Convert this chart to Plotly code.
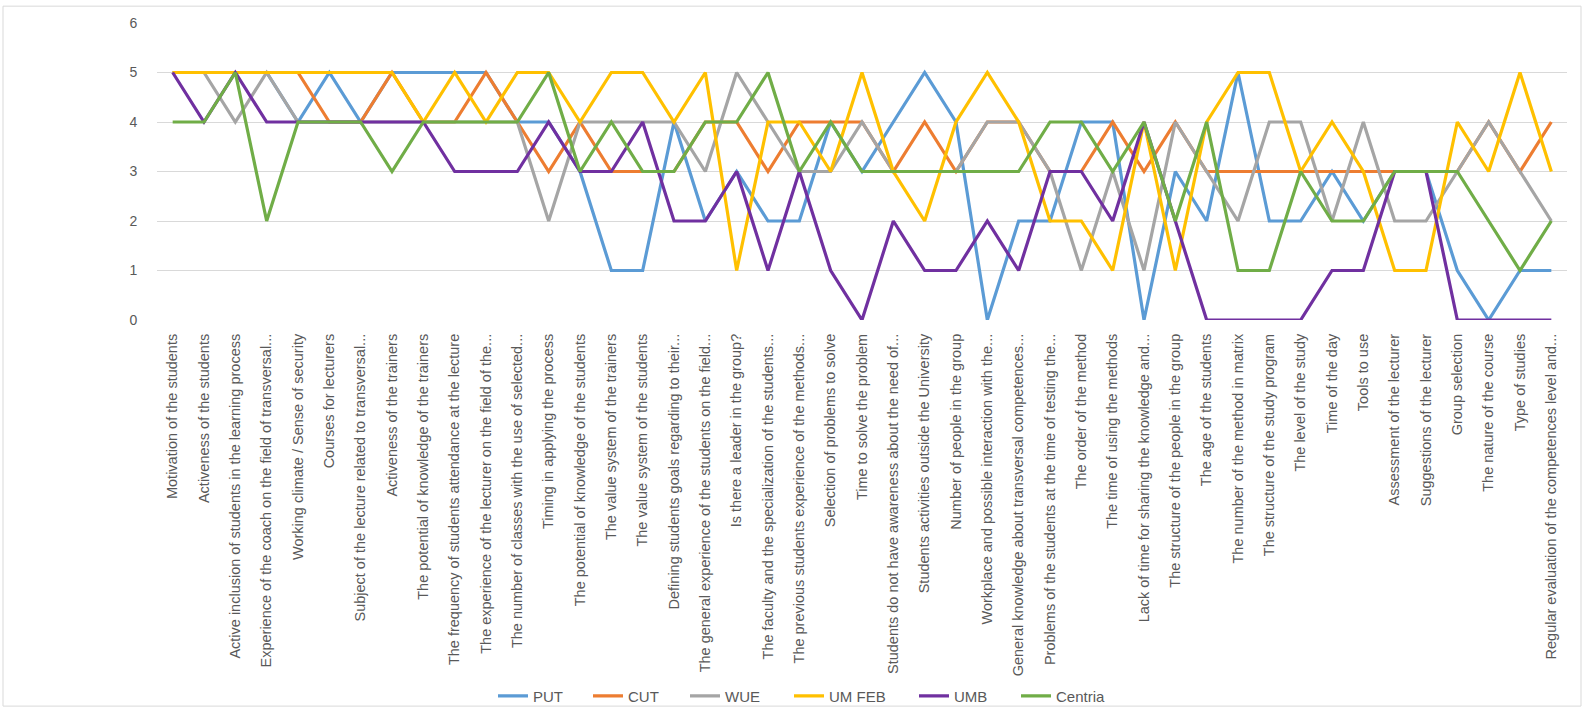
import plotly.graph_objects as go

categories = [
    "Motivation of the students",
    "Activeness of the students",
    "Active inclusion of students in the learning process",
    "Experience of the coach on the field of transversal...",
    "Working climate / Sense of security",
    "Courses for lecturers",
    "Subject of the lecture related to transversal...",
    "Activeness of the trainers",
    "The potential of knowledge of the trainers",
    "The frequency of students attendance at the lecture",
    "The experience of the lecturer on the field of the...",
    "The number of classes with the use of selected...",
    "Timing in applying the process",
    "The potential of knowledge of the students",
    "The value system of the trainers",
    "The value system of the students",
    "Defining students goals regarding to their...",
    "The general experience of the students on the field...",
    "Is there a leader in the group?",
    "The faculty and the specialization of the students...",
    "The previous students experience of the methods...",
    "Selection of problems to solve",
    "Time to solve the problem",
    "Students do not have awareness about the need of...",
    "Students activities outside the University",
    "Number of people in the group",
    "Workplace and possible interaction with the...",
    "General knowledge about transversal competences...",
    "Problems of the students at the time of testing the...",
    "The order of the method",
    "The time of using the methods",
    "Lack of time for sharing the knowledge and...",
    "The structure of the people in the group",
    "The age of the students",
    "The number of the method in matrix",
    "The structure of the study program",
    "The level of the study",
    "Time of the day",
    "Tools to use",
    "Assessment of the lecturer",
    "Suggestions of the lecturer",
    "Group selection",
    "The nature of the course",
    "Type of studies",
    "Regular evaluation of the competences level and...",
]

put = [5, 5, 5, 5, 4, 5, 4, 5, 5, 5, 5, 4, 4, 3, 1, 1, 4, 2, 3, 2, 2, 4, 3,
       4, 5, 4, 0, 2, 2, 4, 4, 0, 3, 2, 5, 2, 2, 3, 2, 3, 3, 1, 0, 1, 1]
cut = [5, 5, 5, 5, 5, 4, 4, 5, 4, 4, 5, 4, 3, 4, 3, 3, 3, 4, 4, 3, 4, 4, 4,
       3, 4, 3, 4, 4, 3, 3, 4, 3, 4, 3, 3, 3, 3, 3, 3, 3, 3, 3, 4, 3, 4]
wue = [5, 5, 4, 5, 4, 4, 4, 4, 4, 4, 4, 4, 2, 4, 4, 4, 4, 3, 5, 4, 3, 3, 4,
       3, 3, 3, 4, 4, 3, 1, 3, 1, 4, 3, 2, 4, 4, 2, 4, 2, 2, 3, 4, 3, 2]
um_feb = [5, 5, 5, 5, 5, 5, 5, 5, 4, 5, 4, 5, 5, 4, 5, 5, 4, 5, 1, 4, 4, 3, 5,
          3, 2, 4, 5, 4, 2, 2, 1, 4, 1, 4, 5, 5, 3, 4, 3, 1, 1, 4, 3, 5, 3]
umb = [5, 4, 5, 4, 4, 4, 4, 4, 4, 3, 3, 3, 4, 3, 3, 4, 2, 2, 3, 1, 3, 1, 0,
       2, 1, 1, 2, 1, 3, 3, 2, 4, 2, 0, 0, 0, 0, 1, 1, 3, 3, 0, 0, 0, 0]
centria = [4, 4, 5, 2, 4, 4, 4, 3, 4, 4, 4, 4, 5, 3, 4, 3, 3, 4, 4, 5, 3, 4, 3,
           3, 3, 3, 3, 3, 4, 4, 3, 4, 2, 4, 1, 1, 3, 2, 2, 3, 3, 3, 2, 1, 2]

series_names = ["PUT", "CUT", "WUE", "UM FEB", "UMB", "Centria"]
series_values = [put, cut, wue, um_feb, umb, centria]
series_colors = ["#5B9BD5", "#ED7D31", "#A5A5A5", "#FFC000", "#7030A0", "#70AD47"]
# left edge (px) of each legend entry's text along the bottom row
legend_text_px = [535, 630, 727, 831, 956, 1058]

W, H = 1585, 724
L, R = 157, 1567
T, B = 23, 323


def px_x(p):
    return (p - L) / (R - L)


def px_y(p):
    return (B - p) / (B - T)


font = "Liberation Sans"
grey = "#595959"

fig = go.Figure()
legend_layouts = {}
for i, (name, values, color) in enumerate(zip(series_names, series_values, series_colors)):
    key = "legend" if i == 0 else f"legend{i + 1}"
    fig.add_trace(go.Scatter(
        x=categories, y=values, name=name, mode="lines",
        line=dict(color=color, width=3.2), legend=key,
    ))
    legend_layouts[key] = dict(
        orientation="h", x=px_x(legend_text_px[i] - 42), xanchor="left",
        y=px_y(703), yanchor="middle",
        font=dict(family=font, size=15, color=grey),
        bgcolor="rgba(0,0,0,0)", borderwidth=0,
    )

fig.update_layout(
    width=W, height=H,
    margin=dict(l=L, r=W - R, t=T, b=H - B),
    paper_bgcolor="white", plot_bgcolor="white",
    showlegend=True,
    xaxis=dict(
        type="category", range=[-0.5, len(categories) - 0.5],
        tickangle=-90, showgrid=False, showline=False, zeroline=False,
        ticks="outside", ticklen=7, tickcolor="rgba(0,0,0,0)",
        tickfont=dict(family=font, size=14.5, color=grey),
    ),
    yaxis=dict(
        range=[0, 6], dtick=1, showgrid=True, gridcolor="#D9D9D9",
        gridwidth=1, zeroline=False, showline=False,
        ticks="outside", ticklen=16, tickcolor="rgba(0,0,0,0)",
        tickfont=dict(family=font, size=14, color=grey),
    ),
    shapes=[dict(
        type="rect", xref="paper", yref="paper",
        x0=px_x(3), x1=px_x(1581), y0=px_y(713), y1=px_y(6),
        line=dict(color="#D9D9D9", width=1), layer="below",
    )],
    **legend_layouts,
)

fig.write_html("out.html")
